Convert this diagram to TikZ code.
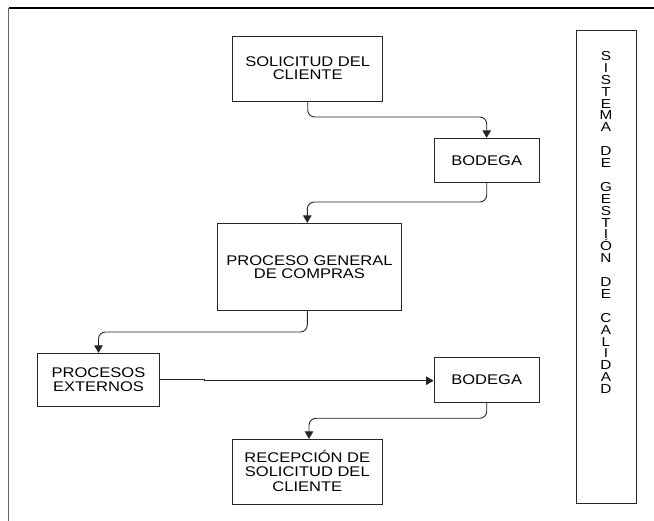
\documentclass[tikz,border=0pt]{standalone}
\usepackage{fontspec}
\setmainfont{Liberation Sans}[FakeStretch=1.18]
\usetikzlibrary{arrows.meta}
\begin{document}
\begin{tikzpicture}[x=1pt,y=-1pt,
  box/.style={draw=black!85, line width=0.9pt, rectangle, inner sep=0pt, align=center},
  flow/.style={draw=black!85, line width=0.9pt, rounded corners=7pt,
    -{Triangle[length=7.5pt,width=8.5pt]}},
  frame/.style={line width=1.2pt}]
\useasboundingbox (0,0) rectangle (654,521);

% open outer frame
\draw[frame, black] (8.7,8) -- (654,8);
\draw[frame, black!60] (8.7,8) -- (8.7,521);

% process boxes
\node[box, minimum width=150pt, minimum height=65pt, font=\fontsize{14}{13}\selectfont]
  (sol) at (307.7,68.5) {SOLICITUD DEL\\CLIENTE};
\node[box, minimum width=105.3pt, minimum height=44.4pt, font=\fontsize{14}{13}\selectfont]
  (bod1) at (486.7,160.5) {BODEGA};
\node[box, minimum width=184.4pt, minimum height=86.7pt, font=\fontsize{14}{13}\selectfont]
  (pgc) at (309.5,266.7) {PROCESO GENERAL\\DE COMPRAS};
\node[box, minimum width=122.4pt, minimum height=52.7pt, font=\fontsize{14}{14.4}\selectfont]
  (pext) at (98.5,379.7) {PROCESOS\\EXTERNOS};
\node[box, minimum width=105.3pt, minimum height=45.4pt, font=\fontsize{14}{13}\selectfont]
  (bod2) at (486.7,380) {BODEGA};
\node[box, minimum width=150pt, minimum height=64.7pt, font=\fontsize{14}{14.5}\selectfont]
  (rec) at (307.3,471.7) {RECEPCI\smash{Ó}N DE\\SOLICITUD DEL\\CLIENTE};

% quality system column
\node[box, minimum width=60pt, minimum height=473.7pt] (sgc) at (606,266.85) {};
\node[inner sep=0pt, align=center, font=\fontsize{13}{11.9}\selectfont]
  (sgctxt) at (606,222.5) {S\\I\\S\\T\\E\\M\\A\\~\\D\\E\\~\\G\\E\\S\\T\\I\\\smash{Ó}\\N\\~\\D\\E\\~\\C\\A\\L\\I\\D\\A\\D};

% connector levels
\coordinate (h1) at (0,117);
\coordinate (h2) at (0,202);
\coordinate (h3) at (0,332);
\coordinate (h4) at (0,418.3);
\coordinate (j1) at (204.3,379.7);
\coordinate (j2) at (204.3,380.7);

% connectors
\draw[flow] (sol.south) -- (sol.south |- h1) -- (bod1.north |- h1) -- (bod1.north);
\draw[flow] (bod1.south) -- (bod1.south |- h2) -- ([xshift=-2.2pt]pgc.north |- h2) -- ([xshift=-2.2pt]pgc.north);
\draw[flow] ([xshift=-2.2pt]pgc.south) -- ([xshift=-2.2pt]pgc.south |- h3) -- (pext.north |- h3) -- (pext.north);
\draw[flow, rounded corners=0pt] (pext.east) -- (j1) -- (j2) -- (bod2.west |- j2);
\draw[flow] (bod2.south) -- (bod2.south |- h4) -- ([xshift=1.7pt]rec.north |- h4) -- ([xshift=1.7pt]rec.north);
\end{tikzpicture}
\end{document}
